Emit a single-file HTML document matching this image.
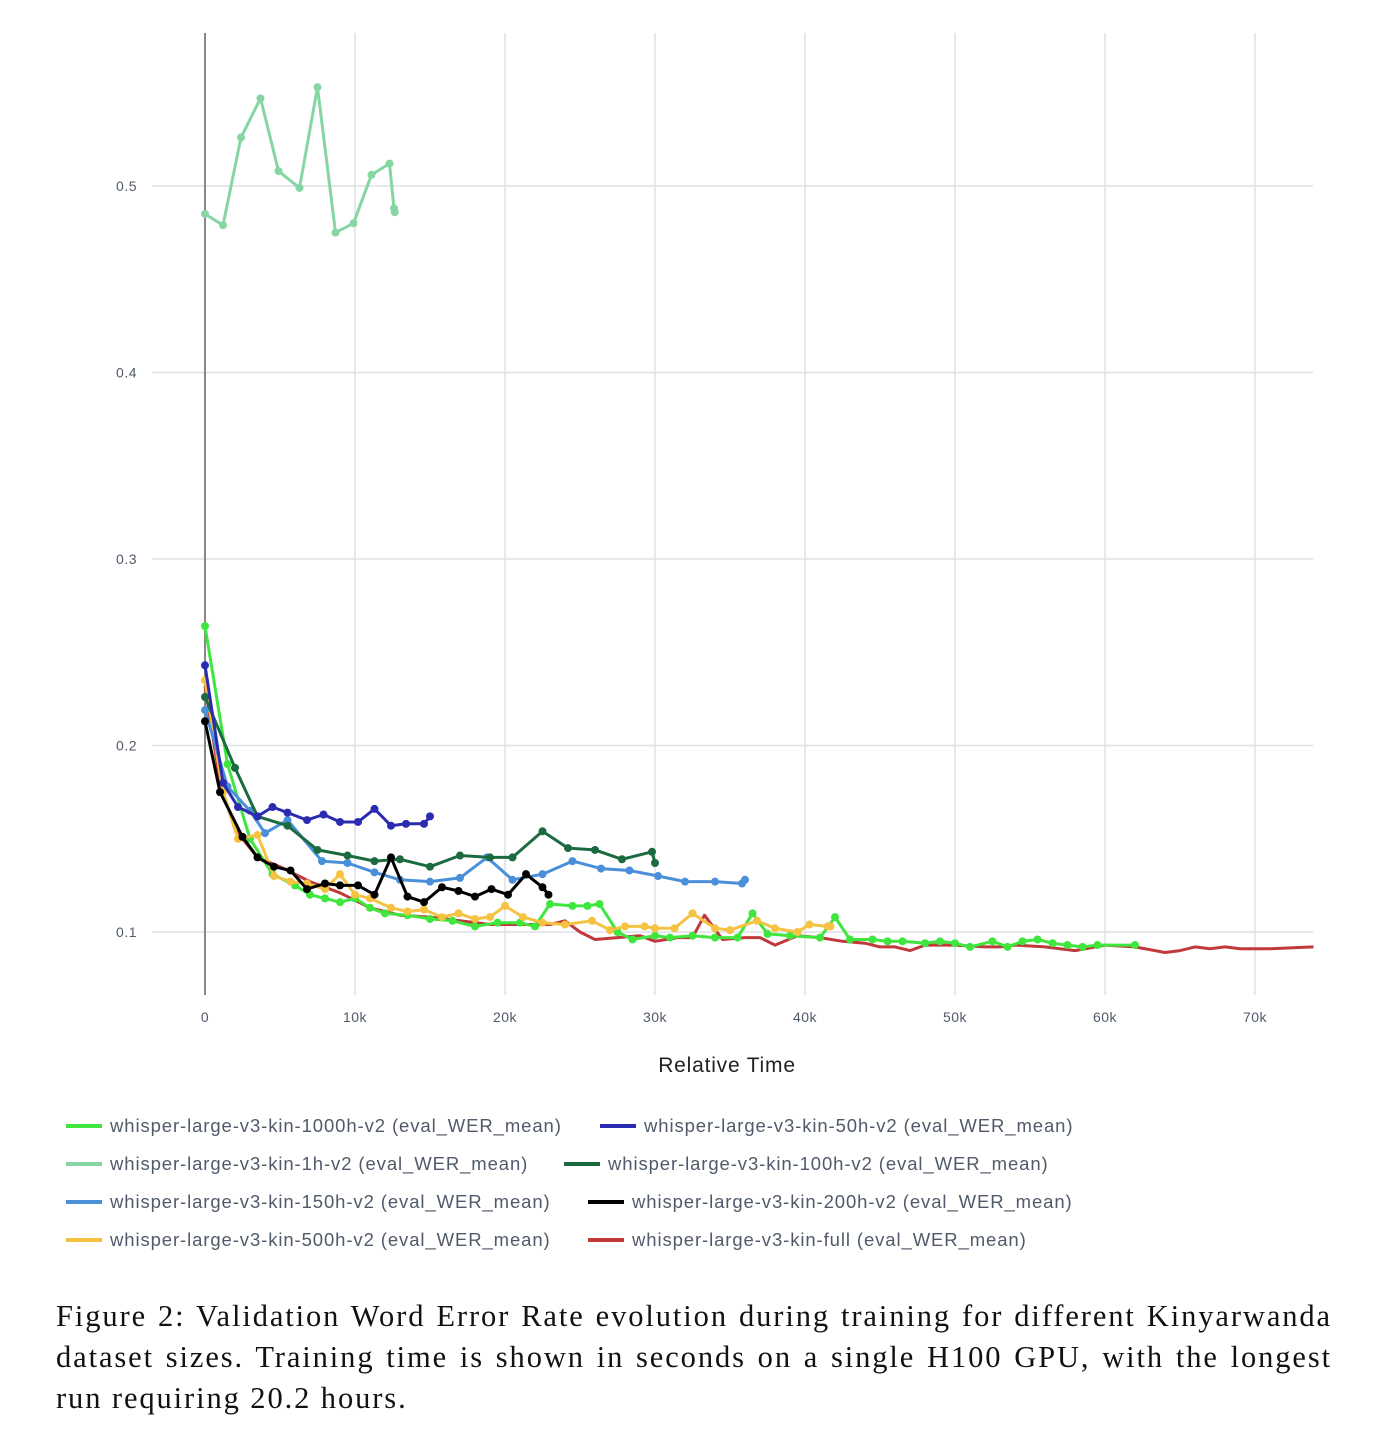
<!DOCTYPE html>
<html><head><meta charset="utf-8">
<style>
body{margin:0;background:#fff;width:1384px;height:1447px;overflow:hidden;position:relative;font-family:"Liberation Sans",sans-serif}
#cap{position:absolute;left:56px;top:1296px;width:1276px;font-family:"Liberation Serif",serif;font-size:30.5px;letter-spacing:1.9px;line-height:41px;color:#111}
#cap div{white-space:nowrap}
#cap .j{text-align:justify;text-align-last:justify;white-space:normal}
</style></head><body>
<svg id="chart" width="1384" height="1290" style="position:absolute;left:0;top:0"></svg>
<div id="cap"><div class="j">Figure 2: Validation Word Error Rate evolution during training for different Kinyarwanda</div><div class="j">dataset sizes. Training time is shown in seconds on a single H100 GPU, with the longest</div><div>run requiring 20.2 hours.</div></div>
<script>
const xTicks=[0,10000,20000,30000,40000,50000,60000,70000];
const xTickLabels=["0","10k","20k","30k","40k","50k","60k","70k"];
const yTicks=[0.1,0.2,0.3,0.4,0.5];
const yTickLabels=["0.1","0.2","0.3","0.4","0.5"];
const seriesNames=["whisper-large-v3-kin-1000h-v2 (eval_WER_mean)","whisper-large-v3-kin-50h-v2 (eval_WER_mean)","whisper-large-v3-kin-1h-v2 (eval_WER_mean)","whisper-large-v3-kin-100h-v2 (eval_WER_mean)","whisper-large-v3-kin-150h-v2 (eval_WER_mean)","whisper-large-v3-kin-200h-v2 (eval_WER_mean)","whisper-large-v3-kin-500h-v2 (eval_WER_mean)","whisper-large-v3-kin-full (eval_WER_mean)"];
const t1h=[0,1200,2400,3700,4900,6300,7500,8700,9900,11100,12300,12600,12650];
const v1h=[0.485,0.479,0.526,0.547,0.508,0.499,0.553,0.475,0.480,0.506,0.512,0.488,0.486];
const t1000=[0,1500,3000,4500,6000,7000,8000,9000,10000,11000,12000,13500,15000,16500,18000,19500,21000,22000,23000,24500,25500,26300,27500,28500,30000,31000,32500,34000,35500,36500,37500,39000,41000,42000,43000,44500,45500,46500,48000,49000,50000,51000,52500,53500,54500,55500,56500,57500,58500,59500,62000];
const v1000=[0.264,0.19,0.15,0.131,0.125,0.12,0.118,0.116,0.118,0.113,0.11,0.109,0.107,0.106,0.103,0.105,0.105,0.103,0.115,0.114,0.114,0.115,0.1,0.096,0.098,0.097,0.098,0.097,0.097,0.11,0.099,0.098,0.097,0.108,0.096,0.096,0.095,0.095,0.094,0.095,0.094,0.092,0.095,0.092,0.095,0.096,0.094,0.093,0.092,0.093,0.093];
const t50=[0,1200,2200,3500,4500,5500,6800,7900,9000,10200,11300,12400,13400,14600,15000];
const v50=[0.243,0.18,0.167,0.162,0.167,0.164,0.16,0.163,0.159,0.159,0.166,0.157,0.158,0.158,0.162];
const t100=[0,2000,3500,5500,7500,9500,11300,13000,15000,17000,19000,20500,22500,24200,26000,27800,29800,30000];
const v100=[0.226,0.188,0.162,0.157,0.144,0.141,0.138,0.139,0.135,0.141,0.14,0.14,0.154,0.145,0.144,0.139,0.143,0.137];
const t150=[0,1500,3000,4000,5500,7800,9500,11300,13000,15000,17000,18800,20500,22500,24500,26400,28300,30200,32000,34000,35800,36000];
const v150=[0.219,0.178,0.165,0.153,0.16,0.138,0.137,0.132,0.128,0.127,0.129,0.14,0.128,0.131,0.138,0.134,0.133,0.13,0.127,0.127,0.126,0.128];
const t200=[0,1000,2500,3500,4600,5700,6800,8000,9000,10200,11300,12400,13500,14600,15800,16900,18000,19100,20200,21400,22500,22900];
const v200=[0.213,0.175,0.151,0.14,0.135,0.133,0.123,0.126,0.125,0.125,0.12,0.14,0.119,0.116,0.124,0.122,0.119,0.123,0.12,0.131,0.124,0.12];
const t500=[0,1200,2200,3500,4600,5700,6800,8000,9000,10000,11000,12400,13500,14600,15800,16900,18000,19000,20000,21200,22500,24000,25800,27000,28000,29300,30000,31300,32500,34000,35000,36800,38000,39500,40300,41500,41700];
const v500=[0.235,0.175,0.15,0.152,0.13,0.127,0.126,0.123,0.131,0.12,0.118,0.113,0.111,0.112,0.108,0.11,0.107,0.108,0.114,0.108,0.105,0.104,0.106,0.101,0.103,0.103,0.102,0.102,0.11,0.102,0.101,0.106,0.102,0.1,0.104,0.103,0.103];
const tFull=[0,1000,2000,3500,5000,7000,9000,11000,13000,15000,17000,19000,21000,23000,24000,25000,26000,27500,29000,30000,31500,32500,33300,34500,36000,37000,38000,39500,41000,42500,44000,45000,46000,47000,48000,50000,52000,53000,54000,56000,58000,60000,62000,64000,65000,66000,67000,68000,69000,71000,73900];
const vFull=[0.232,0.18,0.155,0.14,0.135,0.127,0.121,0.113,0.109,0.108,0.106,0.104,0.104,0.104,0.106,0.1,0.096,0.097,0.098,0.095,0.097,0.097,0.109,0.096,0.097,0.097,0.093,0.098,0.097,0.095,0.094,0.092,0.092,0.09,0.093,0.093,0.092,0.092,0.093,0.092,0.09,0.093,0.092,0.089,0.09,0.092,0.091,0.092,0.091,0.091,0.092];

const NS="http://www.w3.org/2000/svg";
const svg=document.getElementById('chart');
const X=t=>205+t*0.015;
const Y=v=>932-(v-0.1)*1865;
function mk(tag,attrs,parent){const e=document.createElementNS(NS,tag);for(const k in attrs)e.setAttribute(k,attrs[k]);(parent||svg).appendChild(e);return e;}
xTicks.forEach((t,i)=>{
  const l=mk('line',{x1:X(t),x2:X(t),y1:33,y2:995,stroke:i===0?'#888':'#dde1e6','stroke-width':i===0?2:1.5});
  
  
  const tx=mk('text',{x:X(t),y:1022,'text-anchor':'middle','font-size':14,fill:'#505a6a','letter-spacing':0.5});
  tx.textContent=xTickLabels[i];
  
  
});
yTicks.forEach((v,i)=>{
  const l=mk('line',{x1:152,x2:1313,y1:Y(v),y2:Y(v),stroke:'#dde1e6','stroke-width':1.5});
  
  
  const tx=mk('text',{x:137,y:Y(v)+5,'text-anchor':'end','font-size':14,fill:'#505a6a','letter-spacing':0.5});
  tx.textContent=yTickLabels[i];
  
  
});
mk('line',{x1:205,x2:205,y1:33,y2:995,stroke:'#888','stroke-width':2});
const xt=mk('text',{x:727,y:1072,'text-anchor':'middle','font-size':21,fill:'#222','letter-spacing':0.8});
xt.textContent='Relative Time';



const series=[
 {t:tFull,v:vFull,c:'#c0393b',m:false},
 {t:t1h,v:v1h,c:'#86d6a3',m:true},
 {t:t1000,v:v1000,c:'#3ee63e',m:true},
 {t:t500,v:v500,c:'#f5c242',m:true},
 {t:t150,v:v150,c:'#4a90d9',m:true},
 {t:t100,v:v100,c:'#1c6b40',m:true},
 {t:t50,v:v50,c:'#2b2bb0',m:true},
 {t:t200,v:v200,c:'#000000',m:true}
];
const names=['full','1h','1000h','500h','150h','100h','50h','200h'];
series.forEach((s,si)=>{
  const g=mk('g',{});
  
  
  const d=s.t.map((t,i)=>(i?'L':'M')+X(t).toFixed(1)+','+Y(s.v[i]).toFixed(1)).join('');
  const p=mk('path',{d:d,fill:'none',stroke:s.c,'stroke-width':3,'stroke-linejoin':'round'},g);
  
  
  if(s.m) s.t.forEach((t,i)=>{
    const c=mk('circle',{cx:X(t),cy:Y(s.v[i]),r:4,fill:s.c},g);
    
    
  });
});
const legColors=['#3ee63e','#2b2bb0','#86d6a3','#1c6b40','#4a90d9','#000000','#f5c242','#c0393b'];
const legPos=[[66,1126],[600,1126],[66,1164],[564,1164],[66,1202],[588,1202],[66,1240],[588,1240]];
seriesNames.forEach((n,i)=>{
  const g=mk('g',{});
  
  
  const [lx,ly]=legPos[i];
  mk('line',{x1:lx,x2:lx+36,y1:ly,y2:ly,stroke:legColors[i],'stroke-width':4},g);
  const tx=mk('text',{x:lx+44,y:ly+6,'font-size':18.5,fill:'#505a6a','letter-spacing':0.9},g);
  tx.textContent=n;
});
</script>
</body></html>
